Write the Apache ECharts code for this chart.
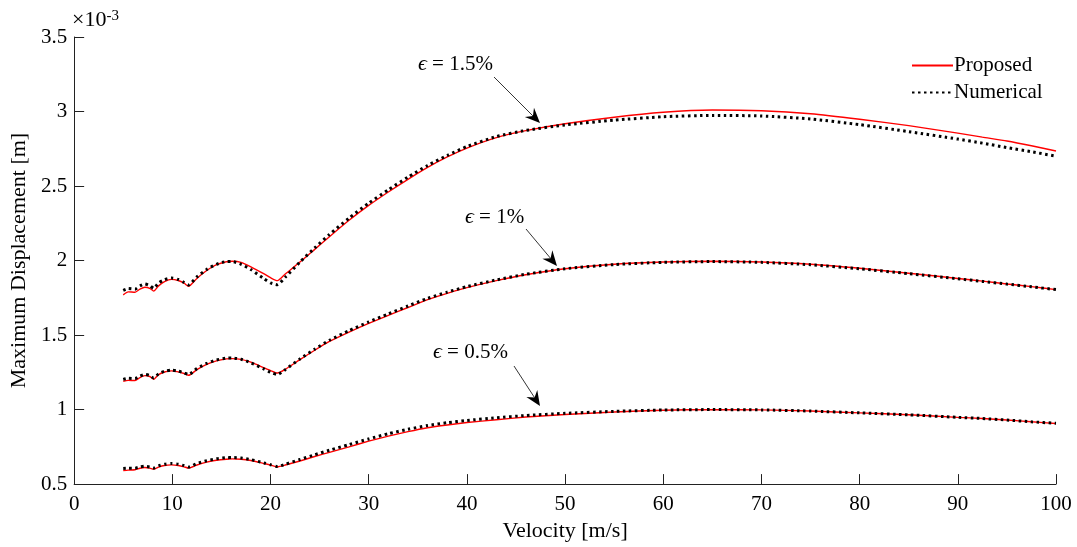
<!DOCTYPE html>
<html>
<head>
<meta charset="utf-8">
<script src="https://cdn.jsdelivr.net/npm/echarts@6/dist/echarts.min.js"></script>
<style>
html,body{margin:0;padding:0;background:#fff;}
#chart{width:1077px;height:547px;}
</style>
</head>
<body>
<div id="chart"></div>
<script>
// Velocity grid [m/s]
const velocity = [5,5.5,6.2,6.7,7.2,7.7,8.1,8.6,9.2,9.9,10.6,11.2,11.65,12.5,13.5,14.5,15.5,16.1,17,18,19.35,20,20.7,21.5,23,24.5,26,28,30,32,34,36,38,40,43,46,50,55,60,65,70,75,80,85,90,92.5,95,97.5,100];

// Maximum displacement (x 1e-3 m)
const proposed15 = [1.77,1.79,1.787,1.808,1.821,1.814,1.795,1.83,1.858,1.874,1.866,1.848,1.827,1.88,1.933,1.972,1.992,1.995,1.988,1.958,1.91,1.885,1.865,1.91,1.99,2.075,2.16,2.27,2.37,2.46,2.545,2.625,2.695,2.755,2.825,2.872,2.918,2.962,2.995,3.01,3.005,2.985,2.948,2.905,2.855,2.828,2.802,2.77,2.735];
const numerical15 = [1.80,1.812,1.808,1.83,1.843,1.832,1.814,1.85,1.872,1.883,1.873,1.853,1.836,1.89,1.94,1.975,1.993,1.993,1.975,1.94,1.877,1.85,1.838,1.888,1.99,2.085,2.175,2.285,2.385,2.475,2.56,2.638,2.705,2.765,2.832,2.873,2.91,2.942,2.965,2.974,2.97,2.95,2.912,2.865,2.815,2.788,2.758,2.73,2.70];
const proposed10 = [1.19,1.196,1.195,1.215,1.228,1.222,1.203,1.235,1.252,1.26,1.253,1.242,1.23,1.268,1.303,1.327,1.34,1.342,1.337,1.318,1.28,1.262,1.245,1.27,1.335,1.398,1.457,1.52,1.578,1.632,1.685,1.738,1.78,1.818,1.865,1.905,1.945,1.975,1.99,1.995,1.99,1.975,1.948,1.915,1.88,1.862,1.843,1.825,1.805];
const numerical10 = [1.203,1.21,1.208,1.225,1.236,1.228,1.212,1.24,1.257,1.265,1.258,1.246,1.235,1.275,1.31,1.333,1.345,1.346,1.338,1.314,1.272,1.25,1.235,1.268,1.34,1.405,1.465,1.53,1.588,1.642,1.695,1.746,1.788,1.825,1.87,1.908,1.945,1.973,1.988,1.993,1.988,1.972,1.945,1.912,1.878,1.86,1.842,1.824,1.805];
const proposed05 = [0.591,0.594,0.596,0.606,0.611,0.607,0.600,0.614,0.625,0.629,0.625,0.616,0.607,0.628,0.647,0.66,0.667,0.669,0.667,0.658,0.638,0.628,0.616,0.628,0.655,0.685,0.713,0.75,0.788,0.822,0.852,0.878,0.897,0.913,0.932,0.95,0.967,0.984,0.996,1.0,0.998,0.99,0.978,0.965,0.948,0.94,0.93,0.918,0.907];
const numerical05 = [0.605,0.607,0.607,0.615,0.62,0.615,0.608,0.622,0.633,0.638,0.634,0.624,0.614,0.638,0.657,0.67,0.677,0.678,0.675,0.664,0.642,0.63,0.618,0.633,0.665,0.697,0.727,0.765,0.803,0.838,0.868,0.893,0.912,0.927,0.945,0.96,0.975,0.988,0.997,1.0,0.998,0.99,0.978,0.965,0.948,0.94,0.93,0.918,0.908];

const legendNames = ['Proposed','Numerical'];
const annotationLabels = ['1.5%','1%','0.5%'];

const FONT = '"Liberation Serif","Times New Roman",serif';
const pair = (ys) => velocity.map((v,i)=>[v, ys[i]]);

function redSeries(ys){
  return {name:'Proposed', type:'line', data:pair(ys), symbol:'none', smooth:0.2, z:2,
    lineStyle:{color:'#ff0000', width:1.4}, itemStyle:{color:'#ff0000'}};
}
function blackSeries(ys){
  return {name:'Numerical', type:'line', data:pair(ys), symbol:'none', smooth:0.2, z:3,
    lineStyle:{color:'#000', width:3, type:[2.5,3.5], cap:'butt'}, itemStyle:{color:'#000'}};
}

function arrow(x1,y1,x2,y2){
  const dx=x2-x1, dy=y2-y1, L=Math.hypot(dx,dy), ux=dx/L, uy=dy/L, px=-uy, py=ux;
  const len=15, hw=6.5, notch=10;
  const bx=x2-ux*len, by=y2-uy*len;
  const nx=x2-ux*notch, ny=y2-uy*notch;
  return [
    {type:'line', shape:{x1:x1,y1:y1,x2:nx,y2:ny}, style:{stroke:'#000', lineWidth:0.8}, z:10},
    {type:'polygon', shape:{points:[[x2,y2],[bx+px*hw,by+py*hw],[nx,ny],[bx-px*hw,by-py*hw]]}, style:{fill:'#000'}, z:10}
  ];
}
function epsText(x,y,label){
  return {type:'text', left:x, top:y, z:10, style:{
    text:'{e|ϵ}{t| = '+label+'}', fill:'#000', fontSize:21, fontFamily:FONT,
    rich:{e:{fontStyle:'italic', fontSize:22, fontFamily:FONT, fill:'#000'},
          t:{fontSize:21, fontFamily:FONT, fill:'#000'}}
  }};
}

const chart = echarts.init(document.getElementById('chart'));
chart.setOption({
  animation:false,
  backgroundColor:'#fff',
  textStyle:{fontFamily:FONT, color:'#000'},
  grid:{left:69, right:21, top:37, bottom:61, containLabel:false},
  legend:{
    data:legendNames, orient:'vertical', left:906, top:50, itemWidth:41, itemHeight:14, itemGap:6,
    itemStyle:{opacity:0},
    textStyle:{fontFamily:FONT, fontSize:21, color:'#000', padding:[0,0,0,-4]},
    selectedMode:false
  },
  xAxis:{
    type:'value', min:0, max:100, interval:10,
    name:'Velocity [m/s]', nameLocation:'middle', nameGap:32,
    nameTextStyle:{fontFamily:FONT, fontSize:22, color:'#000'},
    axisLine:{lineStyle:{color:'#222', width:1}},
    axisTick:{inside:true, length:10, lineStyle:{color:'#222'}},
    axisLabel:{fontFamily:FONT, fontSize:21, color:'#000', margin:10},
    splitLine:{show:false}
  },
  yAxis:{
    type:'value', min:0.5, max:3.5, interval:0.5,
    name:'Maximum Displacement [m]', nameLocation:'middle', nameGap:33, nameRotate:90,
    nameTextStyle:{fontFamily:FONT, fontSize:22, color:'#000'},
    axisLine:{show:true, lineStyle:{color:'#222', width:1}},
    axisTick:{show:true, inside:true, length:10, lineStyle:{color:'#222'}},
    axisLabel:{fontFamily:FONT, fontSize:21, color:'#000', margin:7},
    splitLine:{show:false}
  },
  series:[
    redSeries(proposed15), redSeries(proposed10), redSeries(proposed05),
    blackSeries(numerical15), blackSeries(numerical10), blackSeries(numerical05)
  ],
  graphic:[
    {type:'text', left:72, top:9, z:10, style:{
      text:'{m|×10}{s|-3}', fill:'#000', fontSize:21, fontFamily:FONT,
      rich:{m:{fontSize:22, fontFamily:FONT, fill:'#000', verticalAlign:'bottom'},
            s:{fontSize:15, fontFamily:FONT, fill:'#000', verticalAlign:'top'}}
    }},
    epsText(418, 53, annotationLabels[0]),
    epsText(465, 206, annotationLabels[1]),
    epsText(433, 341, annotationLabels[2]),
    ...arrow(494,77,540,123),
    ...arrow(526,229,557,266),
    ...arrow(514,366,540,406)
  ]
});
</script>
</body>
</html>
